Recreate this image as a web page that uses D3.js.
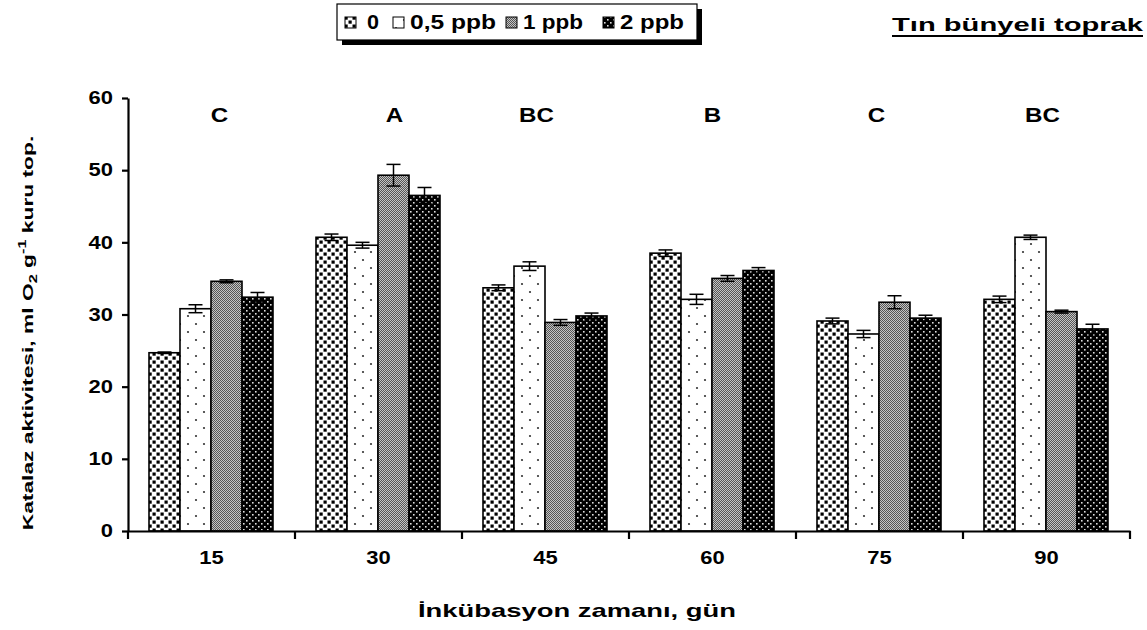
<!DOCTYPE html>
<html><head><meta charset="utf-8">
<script src="https://cdn.jsdelivr.net/npm/d3@7"></script>
<style>
body{margin:0;background:#fff;}
text{font-family:"Liberation Sans",Arial,sans-serif;font-weight:bold;fill:#000;}
</style></head>
<body><svg id="c" width="1147" height="630"></svg>
<script>
const categories = ["15","30","45","60","75","90"];
const seriesNames = ["0","0,5 ppb","1 ppb","2 ppb"];
const s0   = [24.7, 40.7, 33.7, 38.5, 29.1, 32.1];
const s05  = [30.8, 39.6, 36.7, 32.1, 27.3, 40.7];
const s1   = [34.6, 49.3, 28.9, 35.0, 31.7, 30.4];
const s2   = [32.4, 46.5, 29.8, 36.1, 29.5, 28.0];
const e0   = [0.1, 0.45, 0.4, 0.45, 0.4, 0.45];
const e05  = [0.55, 0.4, 0.6, 0.7, 0.5, 0.3];
const e1   = [0.2, 1.5, 0.4, 0.4, 0.9, 0.2];
const e2   = [0.65, 1.1, 0.4, 0.4, 0.4, 0.65];
const groupLetters = ["C","A","BC","B","C","BC"];
const yTicks = [0,10,20,30,40,50,60];

const values = [s0, s05, s1, s2];
const errs = [e0, e05, e1, e2];
const letterNudge = [8, 16, -9, 0, -3, -4];
const STRETCH = 1.22;

const svg = d3.select("#c");
const mLeft = 128, mRight = 1130, mTop = 98, mBottom = 531;

const x = d3.scaleBand().domain(categories).range([mLeft, mRight]).padding(0);
const xs = d3.scaleBand().domain(d3.range(4)).range([21, x.bandwidth() - 22]).padding(0);
const y = d3.scaleLinear().domain([0, 60]).range([mBottom, mTop]);

function stretch(sel, factor, width) {
  sel.each(function(){
    const w = width || this.getComputedTextLength() * factor;
    d3.select(this).attr("textLength", w).attr("lengthAdjust","spacingAndGlyphs");
  });
}

// patterns
const defs = svg.append("defs");
let p = defs.append("pattern").attr("id","p0").attr("patternUnits","userSpaceOnUse").attr("width",8).attr("height",8);
p.append("rect").attr("width",8).attr("height",8).attr("fill","#fff");
p.append("rect").attr("x",0.5).attr("y",0.5).attr("width",3.2).attr("height",3.2).attr("fill","#000");
p.append("rect").attr("x",4.5).attr("y",4.5).attr("width",3.2).attr("height",3.2).attr("fill","#000");

p = defs.append("pattern").attr("id","p1").attr("patternUnits","userSpaceOnUse").attr("width",16).attr("height",16);
p.append("rect").attr("width",16).attr("height",16).attr("fill","#fff");
p.append("circle").attr("cx",4).attr("cy",4).attr("r",1.1).attr("fill","#333");
p.append("circle").attr("cx",12).attr("cy",12).attr("r",1.1).attr("fill","#333");

p = defs.append("pattern").attr("id","p2").attr("patternUnits","userSpaceOnUse").attr("width",2).attr("height",2);
p.append("rect").attr("width",2).attr("height",2).attr("fill","#c4c4c4");
p.append("rect").attr("width",1).attr("height",1).attr("fill","#555");
p.append("rect").attr("x",1).attr("y",1).attr("width",1).attr("height",1).attr("fill","#555");

p = defs.append("pattern").attr("id","p3").attr("patternUnits","userSpaceOnUse").attr("width",6).attr("height",6);
p.append("rect").attr("width",6).attr("height",6).attr("fill","#000");
p.append("rect").attr("x",1).attr("y",1).attr("width",1.6).attr("height",1.6).attr("fill","#ddd");
p.append("rect").attr("x",4).attr("y",4).attr("width",1.6).attr("height",1.6).attr("fill","#ddd");

const fills = ["url(#p0)","url(#p1)","url(#p2)","url(#p3)"];

// bars
const groups = svg.append("g").selectAll("g").data(categories).join("g")
  .attr("transform", d => `translate(${x(d)},0)`);
groups.each(function(cat, ci){
  const g = d3.select(this);
  for (let si = 0; si < 4; si++) {
    const v = values[si][ci], e = errs[si][ci];
    const bx = xs(si), bw = xs.bandwidth();
    g.append("rect").attr("x", bx).attr("y", y(v)).attr("width", bw).attr("height", y(0) - y(v))
      .attr("fill", fills[si]).attr("stroke","#000").attr("stroke-width",1.6);
    const cx = bx + bw/2;
    g.append("line").attr("x1",cx).attr("x2",cx).attr("y1",y(v+e)).attr("y2",y(v-e)).attr("stroke","#000").attr("stroke-width",1.5);
    g.append("line").attr("x1",cx-7).attr("x2",cx+7).attr("y1",y(v+e)).attr("y2",y(v+e)).attr("stroke","#000").attr("stroke-width",1.5);
    g.append("line").attr("x1",cx-7).attr("x2",cx+7).attr("y1",y(v-e)).attr("y2",y(v-e)).attr("stroke","#000").attr("stroke-width",1.5);
  }
});

// y axis
const ya = svg.append("g").attr("transform",`translate(${mLeft},0)`)
  .call(d3.axisLeft(y).tickValues(yTicks).tickSize(6).tickSizeOuter(0).tickPadding(9));
ya.select(".domain").attr("stroke","#000").attr("stroke-width",2.2);
ya.selectAll(".tick line").attr("stroke","#000").attr("stroke-width",2.2);
ya.selectAll(".tick text").style("font-size","18px").style("font-family","Liberation Sans, Arial").style("font-weight","bold");
stretch(ya.selectAll(".tick text"), STRETCH);

// x axis
const xa = svg.append("g").attr("transform",`translate(0,${mBottom})`)
  .call(d3.axisBottom(x).tickSize(0).tickSizeOuter(0).tickPadding(20));
xa.select(".domain").attr("stroke","#000").attr("stroke-width",2.2);
xa.selectAll(".tick text").style("font-size","18px").style("font-family","Liberation Sans, Arial").style("font-weight","bold");
stretch(xa.selectAll(".tick text"), STRETCH);
const bounds = categories.map(c => x(c)).concat([mRight]);
xa.selectAll(".bt").data(bounds).join("line").attr("class","bt")
  .attr("x1", d => d).attr("x2", d => d).attr("y1",0).attr("y2",8).attr("stroke","#000").attr("stroke-width",2.2);

// group letters
const lt = svg.append("g").selectAll("text").data(groupLetters).join("text")
  .attr("x", (d,i) => x(categories[i]) + x.bandwidth()/2 + letterNudge[i])
  .attr("y", 122).attr("text-anchor","middle").style("font-size","21px").text(d => d);
stretch(lt, 1.15);

// axis titles
const xt = svg.append("text").attr("x", 577).attr("y", 617).attr("text-anchor","middle")
  .style("font-size","19px").text("İnkübasyon zamanı, gün");
stretch(xt, 1, 318);

const yt = svg.append("text").attr("text-anchor","middle").style("font-size","14px");
yt.append("tspan").text("Katalaz aktivitesi, ml O");
yt.append("tspan").attr("dy",4).style("font-size","10px").text("2");
yt.append("tspan").attr("dy",-4).text(" g");
yt.append("tspan").attr("dy",-7).style("font-size","10px").text("-1");
yt.append("tspan").attr("dy",7).text(" kuru top.");
const ytLen = yt.node().getBBox().width;
yt.attr("transform",`translate(33,333) rotate(-90) scale(${395/ytLen},1)`);

// title
const tt = svg.append("text").attr("x",1143).attr("y",31).attr("text-anchor","end")
  .style("font-size","18px").text("Tın bünyeli toprak");
stretch(tt, 1, 251);
svg.append("line").attr("x1",1143 - 251).attr("x2",1143).attr("y1",36).attr("y2",36).attr("stroke","#000").attr("stroke-width",1.8);

// legend
const lg = svg.append("g");
lg.append("rect").attr("x",342).attr("y",9).attr("width",360).attr("height",36).attr("fill","#000");
lg.append("rect").attr("x",337).attr("y",4).attr("width",360).attr("height",36).attr("fill","#fff").attr("stroke","#000").attr("stroke-width",1.2);
const lx = [345, 393, 506, 603];
const lw = [12, 86, 60, 64];
seriesNames.forEach((n,i) => {
  lg.append("rect").attr("x",lx[i]).attr("y",17).attr("width",11).attr("height",11)
    .attr("fill",fills[i]).attr("stroke","#000").attr("stroke-width",1);
  const t = lg.append("text").attr("x",lx[i]+ (i===0?22:17)).attr("y",29).style("font-size","20px").text(n);
  stretch(t, 1, lw[i]);
});
</script></body></html>
